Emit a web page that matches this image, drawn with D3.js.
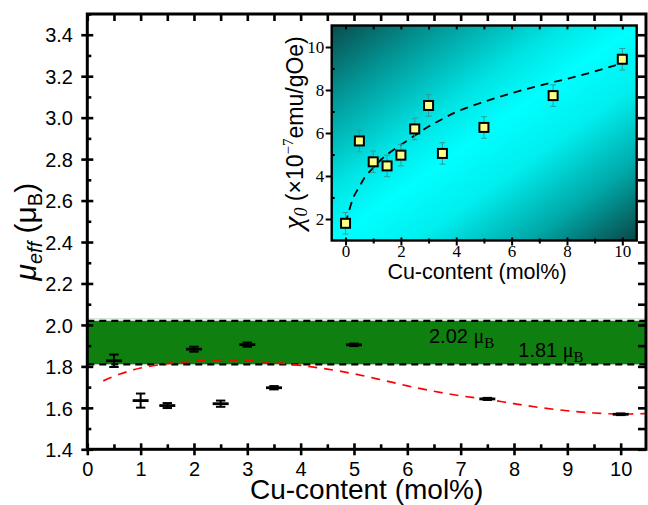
<!DOCTYPE html>
<html>
<head>
<meta charset="utf-8">
<script src="https://cdn.jsdelivr.net/npm/d3@7"></script>
<style>
  body { margin: 0; background: #fff; }
  svg { display: block; }
  text { font-family: Arial, "Liberation Sans", sans-serif; fill: #000; }
  .serif { font-family: "Times New Roman", "Liberation Serif", serif; }
</style>
</head>
<body>
<svg id="chart" width="648" height="505"></svg>
<script>
// ---- effective moment vs Cu content (main panel) ----
const muX   = [0.5, 1, 1.5, 2, 2.5, 3, 3.5, 5, 7.5, 10];
const muVal = [1.827, 1.635, 1.611, 1.883, 1.620, 1.905, 1.697, 1.904, 1.643, 1.569];
const muErr = [0.030, 0.034, 0.012, 0.012, 0.015, 0.010, 0.008, 0.006, 0.005, 0.004];

// fitted trend (red dashed)
const fitX = [0.3, 0.6, 1.0, 1.5, 2.0, 2.5, 3.0, 3.5, 4.0, 4.5, 5.0, 5.5, 6.0, 6.5, 7.0, 7.5, 8.0, 8.5, 9.0, 9.5, 10.0, 10.45];
const fitY = [1.730, 1.762, 1.792, 1.813, 1.826, 1.831, 1.828, 1.818, 1.805, 1.787, 1.764, 1.736, 1.706, 1.680, 1.658, 1.641, 1.620, 1.601, 1.586, 1.575, 1.570, 1.572];

// spin-only band limits
const bandLow = 1.81, bandHigh = 2.02;

const xTicks = [0, 1, 2, 3, 4, 5, 6, 7, 8, 9, 10];
const yTicks = [1.4, 1.6, 1.8, 2.0, 2.2, 2.4, 2.6, 2.8, 3.0, 3.2, 3.4];

// ---- susceptibility chi_0 (inset) ----
const chiX   = [0, 0.5, 1, 1.5, 2, 2.5, 3, 3.5, 5, 7.5, 10];
const chiVal = [1.80, 5.63, 4.66, 4.47, 4.97, 6.19, 7.28, 5.05, 6.26, 7.74, 9.43];
const chiErr = [0.5, 0.5, 0.5, 0.5, 0.5, 0.5, 0.5, 0.5, 0.5, 0.5, 0.5];

const chiFitX = [0, 0.1, 0.3, 0.5, 0.7, 1.0, 1.3, 1.5, 2.0, 2.5, 3.0, 3.5, 4.0, 5.0, 6.0, 7.0, 8.0, 9.0, 10.0];
const chiFitY = [1.80, 2.26, 3.05, 3.50, 3.95, 4.38, 4.78, 5.00, 5.45, 5.88, 6.30, 6.65, 6.98, 7.45, 7.85, 8.20, 8.52, 8.86, 9.25];

const insetXTicks = [0, 2, 4, 6, 8, 10];
const insetYTicks = [2, 4, 6, 8, 10];

const svg = d3.select("#chart");

// ================= main panel =================
const M = { l: 87.3, r: 646, t: 14, b: 449.3 };
const x = d3.scaleLinear().domain([0, 10.475]).range([M.l, M.r]);
const y = d3.scaleLinear().domain([1.4, 3.5]).range([M.b, M.t]);

// shaded band
svg.append("rect")
  .attr("x", x(0)).attr("y", y(bandHigh))
  .attr("width", x(10.475) - x(0)).attr("height", y(bandLow) - y(bandHigh))
  .attr("fill", "#0f7f0f");
svg.append("line")
  .attr("x1", x(0)).attr("x2", x(10.475))
  .attr("y1", y(bandHigh) - 2).attr("y2", y(bandHigh) - 2)
  .attr("stroke", "#c9d9c9").attr("stroke-width", 1);
[bandHigh, bandLow].forEach(v => {
  svg.append("line")
    .attr("x1", x(0)).attr("x2", x(10.475))
    .attr("y1", y(v)).attr("y2", y(v))
    .attr("stroke", "#000").attr("stroke-width", 2.2)
    .attr("stroke-dasharray", "7,5");
});

// band labels
const lab1 = svg.append("text").attr("x", 429).attr("y", 342.7).attr("font-size", 20);
lab1.append("tspan").text("2.02 ");
lab1.append("tspan").attr("class", "serif").text("μ");
lab1.append("tspan").attr("class", "serif").attr("font-size", 15).attr("dy", 5).text("B");
const lab2 = svg.append("text").attr("x", 518.3).attr("y", 356.7).attr("font-size", 20);
lab2.append("tspan").text("1.81 ");
lab2.append("tspan").attr("class", "serif").text("μ");
lab2.append("tspan").attr("class", "serif").attr("font-size", 15).attr("dy", 5).text("B");

// fitted trend
const fitPts = fitX.map((d, i) => [d, fitY[i]]);
svg.append("path")
  .attr("d", d3.line().x(d => x(d[0])).y(d => y(d[1])).curve(d3.curveCatmullRom)(fitPts))
  .attr("fill", "none").attr("stroke", "#ff0000").attr("stroke-width", 1.7)
  .attr("stroke-dasharray", "9,7");

// data with error bars
const pts = svg.append("g").attr("stroke", "#000");
muX.forEach((xv, i) => {
  const cx = x(xv), v = muVal[i], e = muErr[i];
  const g = pts.append("g");
  g.append("line").attr("x1", cx).attr("x2", cx).attr("y1", y(v - e)).attr("y2", y(v + e)).attr("stroke-width", 2);
  [v - e, v + e].forEach(t => g.append("line").attr("x1", cx - 4.7).attr("x2", cx + 4.7).attr("y1", y(t)).attr("y2", y(t)).attr("stroke-width", 2));
  g.append("line").attr("x1", cx - 8).attr("x2", cx + 8).attr("y1", y(v)).attr("y2", y(v)).attr("stroke-width", 2.8);
});

// axes
function style(g) {
  g.select(".domain").remove();
  g.selectAll(".tick line").attr("stroke", "#000").attr("stroke-width", 2.6);
}
const xAx = svg.append("g").attr("transform", `translate(0,${M.b})`)
  .call(d3.axisBottom(x).tickValues(xTicks).tickSize(6).tickFormat(d3.format("d")));
style(xAx);
xAx.selectAll(".tick line").attr("y1", -6);
xAx.selectAll(".tick text").attr("y", 26.5).attr("dy", null).attr("font-size", 20);

const xMinor = svg.append("g").attr("transform", `translate(0,${M.b})`)
  .call(d3.axisBottom(x).tickValues(xTicks.slice(0, -1).map(d => d + 0.5)).tickSize(-5).tickFormat(""));
style(xMinor);

const yAx = svg.append("g").attr("transform", `translate(${M.l},0)`)
  .call(d3.axisLeft(y).tickValues(yTicks).tickSize(6).tickFormat(d3.format(".1f")));
style(yAx);
yAx.selectAll(".tick line").attr("x1", 6);
yAx.selectAll(".tick text").attr("x", -14.3).attr("dy", "0.36em").attr("font-size", 20);

const yMinor = svg.append("g").attr("transform", `translate(${M.l},0)`)
  .call(d3.axisLeft(y).tickValues(yTicks.map(d => d + 0.1)).tickSize(-4).tickFormat(""));
style(yMinor);

const topAx = svg.append("g").attr("transform", `translate(0,${M.t})`)
  .call(d3.axisTop(x).tickValues(d3.range(0, 21).map(d => d / 2)).tickSize(-7).tickFormat(""));
style(topAx);

const rightAx = svg.append("g").attr("transform", `translate(${M.r},0)`)
  .call(d3.axisRight(y).tickValues(d3.range(14, 35).map(d => d / 10)).tickSize(-8).tickFormat(""));
style(rightAx);

svg.append("rect")
  .attr("x", M.l).attr("y", M.t).attr("width", M.r - M.l).attr("height", M.b - M.t)
  .attr("fill", "none").attr("stroke", "#000").attr("stroke-width", 3);

// axis titles
svg.append("text").attr("x", (M.l + M.r) / 2).attr("y", 498.5).attr("text-anchor", "middle")
  .attr("font-size", 28).text("Cu-content (mol%)");

const yt = svg.append("text").attr("transform", `translate(36,${(M.t + M.b) / 2}) rotate(-90)`)
  .attr("text-anchor", "middle").attr("font-size", 30);
yt.append("tspan").attr("font-style", "italic").text("μ");
yt.append("tspan").attr("font-style", "italic").attr("font-size", 20).attr("dy", 6).text("eff");
yt.append("tspan").attr("dy", -6).text(" (μ");
yt.append("tspan").attr("font-size", 20).attr("dy", 6).text("B");
yt.append("tspan").attr("dy", -6).text(")");

// ================= inset =================
const I = { l: 331.7, r: 636.7, t: 25.5, b: 240.5 };
const ix = d3.scaleLinear().domain([-0.5, 10.52]).range([I.l, I.r]);
const iy = d3.scaleLinear().domain([1, 11]).range([I.b, I.t]);

const grad = svg.append("defs").append("linearGradient").attr("id", "insetBg")
  .attr("x1", 0).attr("y1", 0).attr("x2", 1).attr("y2", 1);
[[0, "#0a4c4c"], [0.18, "#039898"], [0.38, "#00e4e4"], [0.5, "#00ffff"], [0.64, "#00eeee"], [0.82, "#00a8a8"], [1, "#0a4646"]]
  .forEach(s => grad.append("stop").attr("offset", s[0]).attr("stop-color", s[1]));

svg.append("rect").attr("x", I.l).attr("y", I.t).attr("width", I.r - I.l).attr("height", I.b - I.t)
  .attr("fill", "url(#insetBg)");

// fit curve
const chiFit = chiFitX.map((d, i) => [d, chiFitY[i]]);
svg.append("path")
  .attr("d", d3.line().x(d => ix(d[0])).y(d => iy(d[1])).curve(d3.curveCatmullRom)(chiFit))
  .attr("fill", "none").attr("stroke", "#000").attr("stroke-width", 1.8)
  .attr("stroke-dasharray", "8,6");

// points with error bars
const ipts = svg.append("g");
chiX.forEach((xv, i) => {
  const cx = ix(xv), v = chiVal[i], e = chiErr[i];
  const g = ipts.append("g").attr("stroke", "#2a9e9e").attr("stroke-width", 1);
  g.append("line").attr("x1", cx).attr("x2", cx).attr("y1", iy(v - e)).attr("y2", iy(v + e));
  [v - e, v + e].forEach(t => g.append("line").attr("x1", cx - 3).attr("x2", cx + 3).attr("y1", iy(t)).attr("y2", iy(t)));
  ipts.append("rect").attr("x", cx - 4.5).attr("y", iy(v) - 4.5).attr("width", 9).attr("height", 9)
    .attr("fill", "#ffff88").attr("stroke", "#000").attr("stroke-width", 2);
});

// inset axes
const ixAx = svg.append("g").attr("transform", `translate(0,${I.b})`)
  .call(d3.axisBottom(ix).tickValues(insetXTicks).tickSize(5).tickFormat(d3.format("d")));
style(ixAx);
ixAx.selectAll(".tick line").attr("y1", -3).attr("stroke-width", 2);
ixAx.selectAll(".tick text").attr("class", "serif").attr("y", 16.5).attr("dy", null).attr("font-size", 17);

const ixMinor = svg.append("g").attr("transform", `translate(0,${I.b})`)
  .call(d3.axisBottom(ix).tickValues([1, 3, 5, 7, 9]).tickSize(3).tickFormat(""));
style(ixMinor);
ixMinor.selectAll(".tick line").attr("y1", -2).attr("stroke-width", 2);

const iyAx = svg.append("g").attr("transform", `translate(${I.l},0)`)
  .call(d3.axisLeft(iy).tickValues(insetYTicks).tickSize(6).tickFormat(d3.format("d")));
style(iyAx);
iyAx.selectAll(".tick line").attr("stroke-width", 2);
iyAx.selectAll(".tick text").attr("class", "serif").attr("x", -7.5).attr("dy", "0.33em").attr("font-size", 17);

const iyMinor = svg.append("g").attr("transform", `translate(${I.l},0)`)
  .call(d3.axisLeft(iy).tickValues([3, 5, 7, 9]).tickSize(-3).tickFormat(""));
style(iyMinor);
iyMinor.selectAll(".tick line").attr("stroke-width", 2);

const itop = svg.append("g").attr("transform", `translate(0,${I.t})`)
  .call(d3.axisTop(ix).tickValues(d3.range(0, 11)).tickSize(-4).tickFormat(""));
style(itop);
itop.selectAll(".tick line").attr("stroke-width", 2);

svg.append("rect").attr("x", I.l).attr("y", I.t).attr("width", I.r - I.l).attr("height", I.b - I.t)
  .attr("fill", "none").attr("stroke", "#000").attr("stroke-width", 2.4);

svg.append("text").attr("x", 477).attr("y", 278.5).attr("text-anchor", "middle")
  .attr("font-size", 21.5).text("Cu-content (mol%)");

const iyt = svg.append("text").attr("transform", `translate(303,${(I.t + I.b) / 2}) rotate(-90)`)
  .attr("text-anchor", "middle").attr("font-size", 23);
iyt.append("tspan").attr("class", "serif").attr("font-style", "italic").attr("font-size", 30).text("χ");
iyt.append("tspan").attr("class", "serif").attr("font-style", "italic").attr("font-size", 18).attr("dy", 4).text("0");
iyt.append("tspan").attr("dy", -4).text(" (×10");
iyt.append("tspan").attr("class", "serif").attr("font-size", 15).attr("dy", -10).text("−7");
iyt.append("tspan").attr("dy", 10).text("emu/gOe)");
</script>
</body>
</html>
